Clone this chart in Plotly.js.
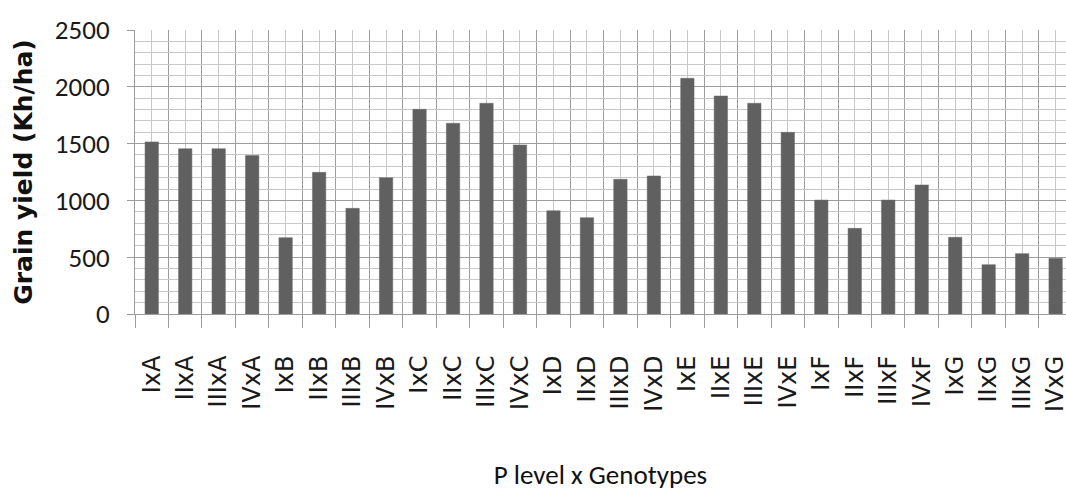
<!DOCTYPE html>
<html>
<head>
<meta charset="utf-8">
<script src="https://cdn.plot.ly/plotly-3.0.1.min.js"></script>
<style>html,body{margin:0;padding:0;background:#fff;}#chart{width:1066px;height:491px;}</style>
</head>
<body>
<div id="chart"></div>
<script>
const categories = ['IxA','IIxA','IIIxA','IVxA','IxB','IIxB','IIIxB','IVxB','IxC','IIxC','IIIxC','IVxC','IxD','IIxD','IIIxD','IVxD','IxE','IIxE','IIIxE','IVxE','IxF','IIxF','IIIxF','IVxF','IxG','IIxG','IIIxG','IVxG'];
const grainYield = [1515,1455,1455,1395,672,1247,930,1200,1802,1679,1855,1488,909,848,1186,1215,2075,1919,1855,1599,1003,754,1003,1136,675,434,531,490];
const yTickVals = [0,500,1000,1500,2000,2500];
const xTitle = 'P level x Genotypes';
const yTitle = 'Grain yield (Kh/ha)';

const positions = categories.map((c, i) => i);

const trace = {
  type: 'bar',
  x: positions,
  y: grainYield,
  width: 0.4,
  marker: {color: '#606060', line: {color: '#6a6a6a', width: 0.5}},
  hoverinfo: 'skip'
};

const layout = {
  width: 1066, height: 491,
  margin: {l: 135, r: 0, t: 30, b: 177, pad: 0},
  paper_bgcolor: '#ffffff', plot_bgcolor: '#ffffff',
  showlegend: false,
  xaxis: {
    type: 'linear', range: [-0.5, 27.31], fixedrange: true,
    tickmode: 'array', tickvals: positions, ticktext: categories,
    tickangle: -90, ticks: '', ticklabeloverflow: 'allow',
    showgrid: true, gridcolor: '#c8c8c8', gridwidth: 1,
    minor: {tickmode: 'linear', tick0: -0.5, dtick: 1, showgrid: true, gridcolor: '#9c9c9c', gridwidth: 1,
            ticks: 'outside', ticklen: 13, tickcolor: '#9c9c9c', tickwidth: 1},
    showline: true, linecolor: '#9c9c9c', linewidth: 1, zeroline: false,
    ticklabelstandoff: 31,
    tickfont: {family: 'DejaVu Sans', size: 24, color: '#1a1a1a'},
    automargin: false,
    title: {text: xTitle, font: {family: 'Carlito', size: 27, color: '#111'}, standoff: 61}
  },
  yaxis: {
    range: [0, 2500], fixedrange: true,
    tickmode: 'array', tickvals: yTickVals,
    ticks: 'outside', ticklen: 7, tickcolor: '#9c9c9c', tickwidth: 1,
    showgrid: true, gridcolor: '#9c9c9c', gridwidth: 1,
    minor: {dtick: 100, tick0: 0, showgrid: true, gridcolor: '#c8c8c8', gridwidth: 1},
    showline: true, linecolor: '#9c9c9c', linewidth: 1, zeroline: false,
    ticklabelstandoff: 12,
    tickfont: {family: 'Carlito', size: 27, color: '#1a1a1a'},
    automargin: false,
    title: {text: yTitle, font: {family: 'DejaVu Sans', size: 25, weight: 'bold', color: '#111'}, standoff: 15}
  }
};

Plotly.newPlot('chart', [trace], layout, {staticPlot: true, displayModeBar: false});
</script>
</body>
</html>
